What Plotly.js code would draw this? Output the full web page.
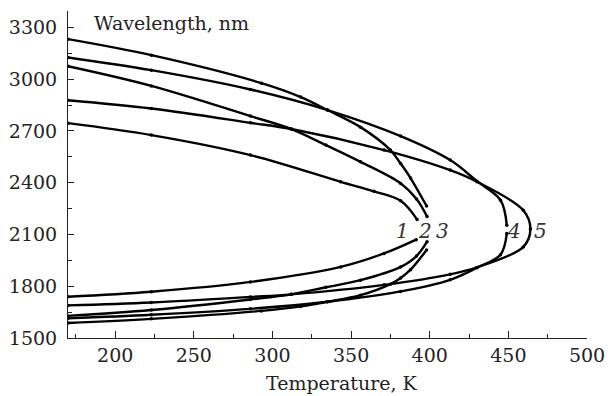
<!DOCTYPE html>
<html>
<head>
<meta charset="utf-8">
<script src="https://cdn.plot.ly/plotly-3.0.1.min.js"></script>
<style>html,body{margin:0;padding:0;background:#fff;}#chart{width:608px;height:396px;}</style>
</head>
<body>
<div id="chart"></div>
<script>
// Curve 1
const c1T    = [170, 223, 286, 343.4, 364.5, 381.5, 392];
const c1Up   = [2745, 2676, 2560, 2405, 2350, 2295, 2186];
const c1LowT = [170, 223, 286, 343.4, 370.9, 391.4];
const c1Low  = [1739, 1768, 1825, 1912, 1990, 2070];
// Curve 2
const c2T   = [170, 223, 286, 312, 334, 356, 381.5, 391.6, 398.3];
const c2Up  = [3075, 2961, 2786, 2711, 2618, 2521, 2396, 2305, 2204];
const c2Low = [1628, 1662, 1723, 1753, 1794, 1835, 1912, 1975, 2058];
// Curve 3
const c3T   = [170, 223, 293, 318, 335, 356, 375, 381.5, 387.8, 398];
const c3Up  = [3232, 3139, 2977, 2896, 2821, 2722, 2589, 2511, 2427, 2265];
const c3Low = [1587, 1611, 1657, 1683, 1710, 1748, 1812, 1848, 1896, 2010];
// Curve 4
const c4T   = [170, 223, 286, 335, 381.5, 413, 430, 445, 449];
const c4Up  = [3126, 3052, 2940, 2821, 2670, 2531, 2409, 2299, 2153];
const c4Low = [1614, 1635, 1669, 1710, 1770, 1837, 1907, 1983, 2106];
// Curve 5 (closed tip: last value shared)
const c5T   = [170, 223, 286, 312, 371, 413, 430, 459.5, 464];
const c5Up  = [2878, 2830, 2747, 2711, 2589, 2473, 2406, 2240, 2131];
const c5Low = [1689, 1706, 1738, 1753, 1808, 1869, 1909, 2028, 2131];

const curveLabels = ["1", "2", "3", "4", "5"];
const labelT = [382.5, 397.3, 408, 453.8, 470.3];
const labelW = [2118, 2118, 2118, 2118, 2118];

const xTicks = [200, 250, 300, 350, 400, 450, 500];
const yTicks = [1500, 1800, 2100, 2400, 2700, 3000, 3300];

const FONT = "DejaVu Serif, Liberation Serif, serif";
const lineStyle = {color: "#000", width: 2.4, shape: "spline", smoothing: 1};
const markStyle = {color: "#000", size: 3.5};

function branch(x, y) {
  return {x: x, y: y, type: "scatter", mode: "lines+markers",
          line: lineStyle, marker: markStyle, showlegend: false, hoverinfo: "skip"};
}

const traces = [
  branch(c1T, c1Up), branch(c1LowT, c1Low),
  branch(c2T, c2Up), branch(c2T, c2Low),
  branch(c3T, c3Up), branch(c3T, c3Low),
  branch(c4T, c4Up), branch(c4T, c4Low),
  branch(c5T.concat(c5T.slice(0, -1).reverse()), c5Up.concat(c5Low.slice(0, -1).reverse()))
];

const annotations = curveLabels.map((t, i) => ({
  x: labelT[i], y: labelW[i], xref: "x", yref: "y", text: "<i>" + t + "</i>",
  showarrow: false, font: {family: FONT, size: 20, color: "#333"}
}));
annotations.push({
  x: 92, y: 23, xref: "paper", yref: "paper", text: "Wavelength, nm", showarrow: false,
  xanchor: "left", yanchor: "middle", font: {family: FONT, size: 19, color: "#222"}
});
annotations.push({
  x: 342, y: 383, xref: "paper", yref: "paper", text: "Temperature, K", showarrow: false,
  xanchor: "center", yanchor: "middle", font: {family: FONT, size: 19, color: "#222"}
});
// convert pixel positions of the two titles into paper coords
const L = 68, R = 21, T = 11, B = 58, W = 608, H = 396;
annotations.slice(-2).forEach(a => {
  a.x = (a.x - L) / (W - L - R);
  a.y = 1 - (a.y - T) / (H - T - B);
});

const layout = {
  width: W, height: H,
  margin: {l: L, r: R, t: T, b: B, pad: 0},
  paper_bgcolor: "#fff", plot_bgcolor: "#fff",
  showlegend: false,
  xaxis: {
    range: [170, 500], tickvals: xTicks, ticktext: xTicks.map(String),
    ticks: "inside", ticklen: 7, tickwidth: 1, tickcolor: "#222",
    showline: true, linecolor: "#222", linewidth: 1, showgrid: false, zeroline: false,
    tickfont: {family: FONT, size: 19, color: "#222"},
    minor: {dtick: 50, tick0: 175, ticks: "inside", ticklen: 4, tickcolor: "#222", showgrid: false}
  },
  yaxis: {
    range: [1500, 3395], tickvals: yTicks, ticktext: yTicks.map(String),
    ticks: "inside", ticklen: 6, tickwidth: 1, tickcolor: "#222",
    showline: true, linecolor: "#222", linewidth: 1, showgrid: false, zeroline: false,
    tickfont: {family: FONT, size: 19, color: "#222"},
    ticklabelstandoff: 6,
    minor: {dtick: 300, tick0: 1650, ticks: "inside", ticklen: 4, tickcolor: "#222", showgrid: false}
  },
  annotations: annotations
};

Plotly.newPlot("chart", traces, layout, {staticPlot: true, displayModeBar: false});
</script>
</body>
</html>
